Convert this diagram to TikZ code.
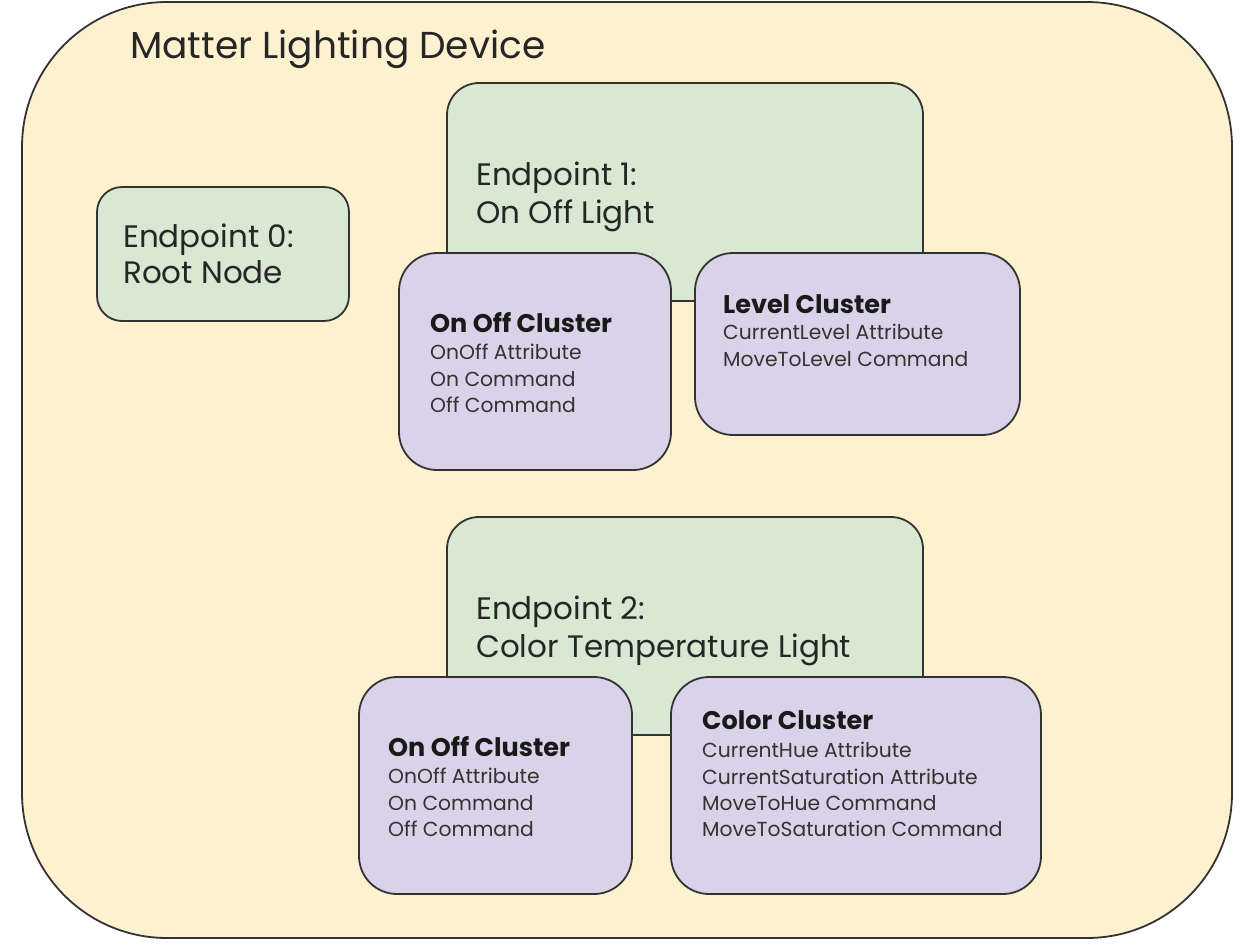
\documentclass[tikz,border=0pt]{standalone}
\usepackage{fontspec}
\setmainfont{Poppins}
\definecolor{outerfill}{HTML}{FDF1CF}
\definecolor{greenfill}{HTML}{D9E8D3}
\definecolor{purplefill}{HTML}{D9D2E8}
\definecolor{edge}{HTML}{333333}
\begin{document}
\begin{tikzpicture}[x=1pt,y=-1pt,
  box/.style={draw=edge, line width=1.8pt, inner sep=0pt, outer sep=0pt, anchor=north west},
  device/.style={box, fill=outerfill, rounded corners=145pt},
  ep/.style={box, fill=greenfill},
  cl/.style={box, fill=purplefill, rounded corners=38pt},
  title/.style={anchor=base west, inner sep=0pt, font=\fontsize{37.5}{40}\selectfont, text=black!85},
  eptext/.style={anchor=base west, inner sep=0pt, font=\fontsize{31}{36}\selectfont, text=black!85},
  clhead/.style={anchor=base west, inner sep=0pt, font=\bfseries\fontsize{25.5}{27}\selectfont, text=black!90},
  clitem/.style={anchor=base west, inner sep=0pt, font=\fontsize{20.3}{27}\selectfont, text=black!80},
]
\useasboundingbox (0,0) rectangle (1254,948);
\node[device, minimum width=1210pt, minimum height=936pt] (dev) at (22,2) {};
\node[title] (devt) at (130,58) {Matter Lighting Device};

% Endpoint 0
\node[ep, rounded corners=25pt, minimum width=252pt, minimum height=134pt] (ep0) at (97,187) {};
\node[eptext] (ep0t) at (123,247) {Endpoint 0:};
\node[eptext] (ep0u) at (123,283) {Root Node};

% Endpoint 1
\node[ep, rounded corners=32pt, minimum width=476pt, minimum height=218pt] (ep1) at (447,83) {};
\node[eptext] (ep1t) at (476,185) {Endpoint 1:};
\node[eptext] (ep1u) at (476,223) {On Off Light};

\node[cl, minimum width=272pt, minimum height=217pt] (oo1) at (399,253) {};
\node[clhead] (oo1h) at (430,332) {On Off Cluster};
\node[clitem] (oo1a) at (430,359) {OnOff Attribute};
\node[clitem] (oo1b) at (430,386) {On Command};
\node[clitem] (oo1c) at (430,412) {Off Command};

\node[cl, minimum width=325pt, minimum height=182pt] (lvl) at (695,253) {};
\node[clhead] (lvlh) at (723,313) {Level Cluster};
\node[clitem] (lvla) at (723,339) {CurrentLevel Attribute};
\node[clitem] (lvlb) at (723,366) {MoveToLevel Command};

% Endpoint 2
\node[ep, rounded corners=32pt, minimum width=476pt, minimum height=218pt] (ep2) at (447,517) {};
\node[eptext] (ep2t) at (476,619) {Endpoint 2:};
\node[eptext] (ep2u) at (476,657) {Color Temperature Light};

\node[cl, minimum width=273pt, minimum height=217pt] (oo2) at (359,677) {};
\node[clhead] (oo2h) at (388,756) {On Off Cluster};
\node[clitem] (oo2a) at (388,783) {OnOff Attribute};
\node[clitem] (oo2b) at (388,810) {On Command};
\node[clitem] (oo2c) at (388,836) {Off Command};

\node[cl, minimum width=370pt, minimum height=217pt] (col) at (671,677) {};
\node[clhead] (colh) at (702,729) {Color Cluster};
\node[clitem] (cola) at (702,757) {CurrentHue Attribute};
\node[clitem] (colb) at (702,784) {CurrentSaturation Attribute};
\node[clitem] (colc) at (702,810) {MoveToHue Command};
\node[clitem] (cold) at (702,836) {MoveToSaturation Command};
\end{tikzpicture}
\end{document}
